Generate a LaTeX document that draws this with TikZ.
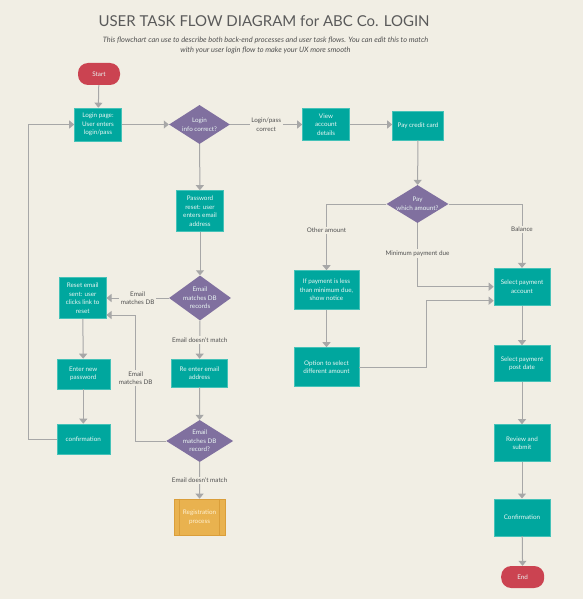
\documentclass[tikz,border=0pt]{standalone}
\usepackage{fontspec}
\setmainfont{Lato}
\usetikzlibrary{shapes.geometric, arrows.meta, positioning}

\definecolor{bgcol}{HTML}{F1EEE4}
\definecolor{boxteal}{HTML}{00A79E}
\definecolor{boxedge}{HTML}{45C2B8}
\definecolor{boxtext}{HTML}{E9F6F3}
\definecolor{dpurple}{HTML}{80709F}
\definecolor{tred}{HTML}{CB4351}
\definecolor{porange}{HTML}{E9B24F}
\definecolor{poedge}{HTML}{DA9E3A}
\definecolor{potext}{HTML}{FFF1D2}
\definecolor{linegray}{HTML}{A7A7A7}
\definecolor{lbltext}{HTML}{505050}
\definecolor{titlegray}{HTML}{5A5A5A}

\begin{document}
\begin{tikzpicture}[x=1pt, y=-1pt,
    every node/.style={font=\fontsize{6.3}{8.5}\selectfont},
    proc/.style={rectangle, fill=boxteal, draw=boxedge, line width=0.6pt,
      text=boxtext, align=center, inner sep=1pt,
      minimum width=56pt, minimum height=37pt},
    decision/.style={diamond, aspect=1.5, fill=dpurple, text=boxtext,
      align=center, inner sep=-2pt},
    term/.style={rectangle, rounded corners=10pt, fill=tred, text=boxtext,
      minimum width=42pt, minimum height=22pt},
    predef/.style={rectangle, fill=porange, draw=poedge, line width=0.6pt,
      text=potext, align=center, minimum width=51pt, minimum height=36pt},
    flow/.style={draw=linegray, line width=1pt,
      -{Triangle[width=8pt,length=5pt]}},
    lbl/.style={fill=bgcol, text=lbltext, align=center, inner sep=1.5pt},
  ]
  \fill[bgcol] (0,0) rectangle (583,599);

  % heading
  \node[font=\fontsize{15}{17}\selectfont, text=titlegray] (title) at (264,21)
    {USER TASK FLOW DIAGRAM for ABC Co. LOGIN};
  \node[font=\fontsize{7.4}{10}\selectfont\itshape, text=lbltext, align=center]
    (subtitle) at (265.5,45)
    {This flowchart can use to describe both back-end processes and user task flows. You can edit this to match\\
     with your user login flow to make your UX more smooth};

  % login column
  \node[term] (start) at (99,74) {Start};
  \node[proc, minimum width=47pt, minimum height=33pt] (login) at (98,124.5)
    {Login page:\\User enters\\login/pass};
  \node[decision, minimum width=61pt, minimum height=39pt] (dlogin) at (199.5,124.5)
    {Login\\info correct?};
  \node[proc, minimum width=47pt, minimum height=41pt] (pwreset) at (200,211)
    {Password\\reset: user\\enters email\\address};
  \node[decision, minimum width=62pt, minimum height=45pt] (dbrec) at (200,298)
    {Email\\matches DB\\records};
  \node[proc, minimum width=47pt, minimum height=41pt] (reset) at (82.7,298)
    {Reset email\\sent: user\\clicks link to\\reset};
  \node[proc, minimum width=56pt, minimum height=28pt] (reenter) at (199.5,373)
    {Re enter email\\address};
  \node[proc, minimum width=53pt, minimum height=30pt] (newpw) at (83.3,374)
    {Enter new\\password};
  \node[proc, minimum width=53pt, minimum height=30pt] (confirm) at (83.3,439)
    {confirmation};
  \node[decision, minimum width=67pt, minimum height=42pt] (dbrec2) at (199.7,441)
    {Email\\matches DB\\record?};
  \node[predef] (regproc) at (199.5,517) {Registration\\process};
  \draw[poedge, line width=0.6pt] ([xshift=6pt]regproc.north west) -- ([xshift=6pt]regproc.south west);
  \draw[poedge, line width=0.6pt] ([xshift=-6pt]regproc.north east) -- ([xshift=-6pt]regproc.south east);

  % payment column
  \node[proc, minimum width=47pt, minimum height=32pt] (view) at (326,124.5)
    {View\\account\\details};
  \node[proc, minimum width=51pt, minimum height=29pt] (pay) at (418,125.5)
    {Pay credit card};
  \node[decision, minimum width=62pt, minimum height=38pt] (dpay) at (417.5,204)
    {Pay\\which amount?};
  \node[proc, minimum width=65pt, minimum height=39pt] (notice) at (326.5,290)
    {If payment is less\\than minimum due,\\show notice};
  \node[proc, minimum width=65pt, minimum height=39pt] (option) at (326.5,367)
    {Option to select\\different amount};
  \node[proc] (acct) at (522,286.7) {Select payment\\account};
  \node[proc, minimum height=36pt] (postdate) at (522,363.5) {Select payment\\post date};
  \node[proc] (review) at (522,443) {Review and\\submit};
  \node[proc] (confirm2) at (522,517.3) {Confirmation};
  \node[term, minimum width=43pt] (end) at (522.7,577) {End};

  \coordinate (optjoin) at (426.7,300.7);
  \coordinate (recjoin) at (135.7,315);
  \coordinate (backjoin) at (28.3,439);

  % connectors
  \draw[flow] (start) -- (login);
  \draw[flow] (login) -- (dlogin);
  \draw[flow] (dlogin) -- node[lbl]{Login/pass\\correct} (view);
  \draw[flow] (view.east) -- (view.east -| pay.west);
  \draw[flow] (pay) -- (dpay);
  \draw[flow] (dpay.west) -| node[lbl, pos=0.7]{Other amount} (notice.north);
  \draw[flow] (dpay.east) -| node[lbl, pos=0.7]{Balance} (acct.north);
  \draw[flow] (dpay.south) |- node[lbl, pos=0.24]{Minimum payment due} (acct.west);
  \draw[flow] (notice) -- (option);
  \draw[flow] (option.east) -| (optjoin) -- (optjoin -| acct.west);
  \draw[flow] (acct) -- (postdate);
  \draw[flow] (postdate) -- (review);
  \draw[flow] (review) -- (confirm2);
  \draw[flow] (confirm2) -- (end);

  \draw[flow] (dlogin) -- (pwreset);
  \draw[flow] (pwreset) -- (dbrec);
  \draw[flow] (dbrec) -- node[lbl]{Email\\matches DB} (reset);
  \draw[flow] (dbrec) -- node[lbl]{Email doesn't match} (reenter);
  \draw[flow] (reenter) -- (dbrec2);
  \draw[flow] (dbrec2) -- node[lbl]{Email doesn't match} (regproc);
  \draw[flow] (dbrec2.west) -| node[lbl, pos=0.75]{Email\\matches DB} (recjoin) -- (recjoin -| reset.east);
  \draw[flow] (reset) -- (newpw);
  \draw[flow] (newpw) -- (confirm);
  \draw[flow] (confirm.west) -- (backjoin) |- (login.west);
\end{tikzpicture}
\end{document}
